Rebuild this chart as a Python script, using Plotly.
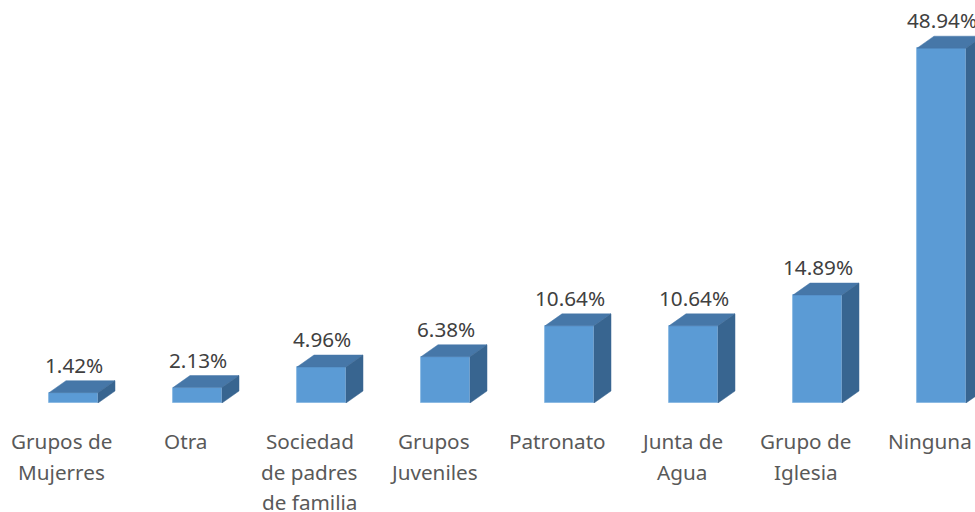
import plotly.graph_objects as go

categories = ["Grupos de<br>Mujerres", "Otra", "Sociedad<br>de padres<br>de familia",
              "Grupos<br>Juveniles", "Patronato", "Junta de<br>Agua", "Grupo de<br>Iglesia", "Ninguna"]
values = [1.42, 2.13, 4.96, 6.38, 10.64, 10.64, 14.89, 48.94]
value_labels = ["1.42%", "2.13%", "4.96%", "6.38%", "10.64%", "10.64%", "14.89%", "48.94%"]

FRONT = "#5B9BD5"
TOP = "#4677A8"
SIDE = "#386590"

W, H = 975, 512
px_per_cat = 124.0
px_per_pct = 7.25
axis_px = 403
bar_w = 0.395
dx = 17 / px_per_cat
dy = 12 / px_per_pct

x0 = -73.5 / px_per_cat
x1 = x0 + W / px_per_cat
y_top = axis_px / px_per_pct

xs = list(range(len(values)))
fig = go.Figure()
fig.add_trace(go.Bar(x=xs, y=values, width=bar_w, marker=dict(color=FRONT, line=dict(color="#7FB2E0", width=0.8)),
                     hoverinfo="skip", showlegend=False))
for x, v in zip(xs, values):
    l, r = x - bar_w / 2, x + bar_w / 2
    fig.add_trace(go.Scatter(x=[l, r, r + dx, l + dx, l], y=[v, v, v + dy, v + dy, v],
                             fill="toself", fillcolor=TOP, mode="lines",
                             line=dict(color=TOP, width=0.5), hoverinfo="skip", showlegend=False))
    fig.add_trace(go.Scatter(x=[r, r + dx, r + dx, r, r], y=[0, dy, v + dy, v, 0],
                             fill="toself", fillcolor=SIDE, mode="lines",
                             line=dict(color=SIDE, width=0.5), hoverinfo="skip", showlegend=False))

FS = 20.7
annotations = []
for x, v, t in zip(xs, values, value_labels):
    annotations.append(dict(x=x, y=v + dy, xref="x", yref="y", text=t, showarrow=False,
                            yanchor="bottom", yshift=0, font=dict(size=FS, color="#404040")))
for x, c in zip(xs, categories):
    for i, line in enumerate(c.split("<br>")):
        annotations.append(dict(x=x, y=0, xref="x", yref="y", text=line, showarrow=False,
                                yanchor="middle", yshift=-(38 + 30.5 * i), xshift=-12,
                                font=dict(size=FS, color="#595959")))

fig.update_layout(
    width=W, height=H, margin=dict(l=0, r=0, t=0, b=H - axis_px),
    plot_bgcolor="white", paper_bgcolor="white",
    font=dict(family="Noto Sans"),
    xaxis=dict(range=[x0, x1], showticklabels=False, showgrid=False, zeroline=False, showline=False),
    yaxis=dict(range=[0, y_top], showticklabels=False, showgrid=False, zeroline=False, showline=False),
    annotations=annotations, bargap=0,
)
fig.write_html("out.html", config={"displayModeBar": False},
               post_script="document.body.style.margin='0';document.body.style.overflow='hidden';")
